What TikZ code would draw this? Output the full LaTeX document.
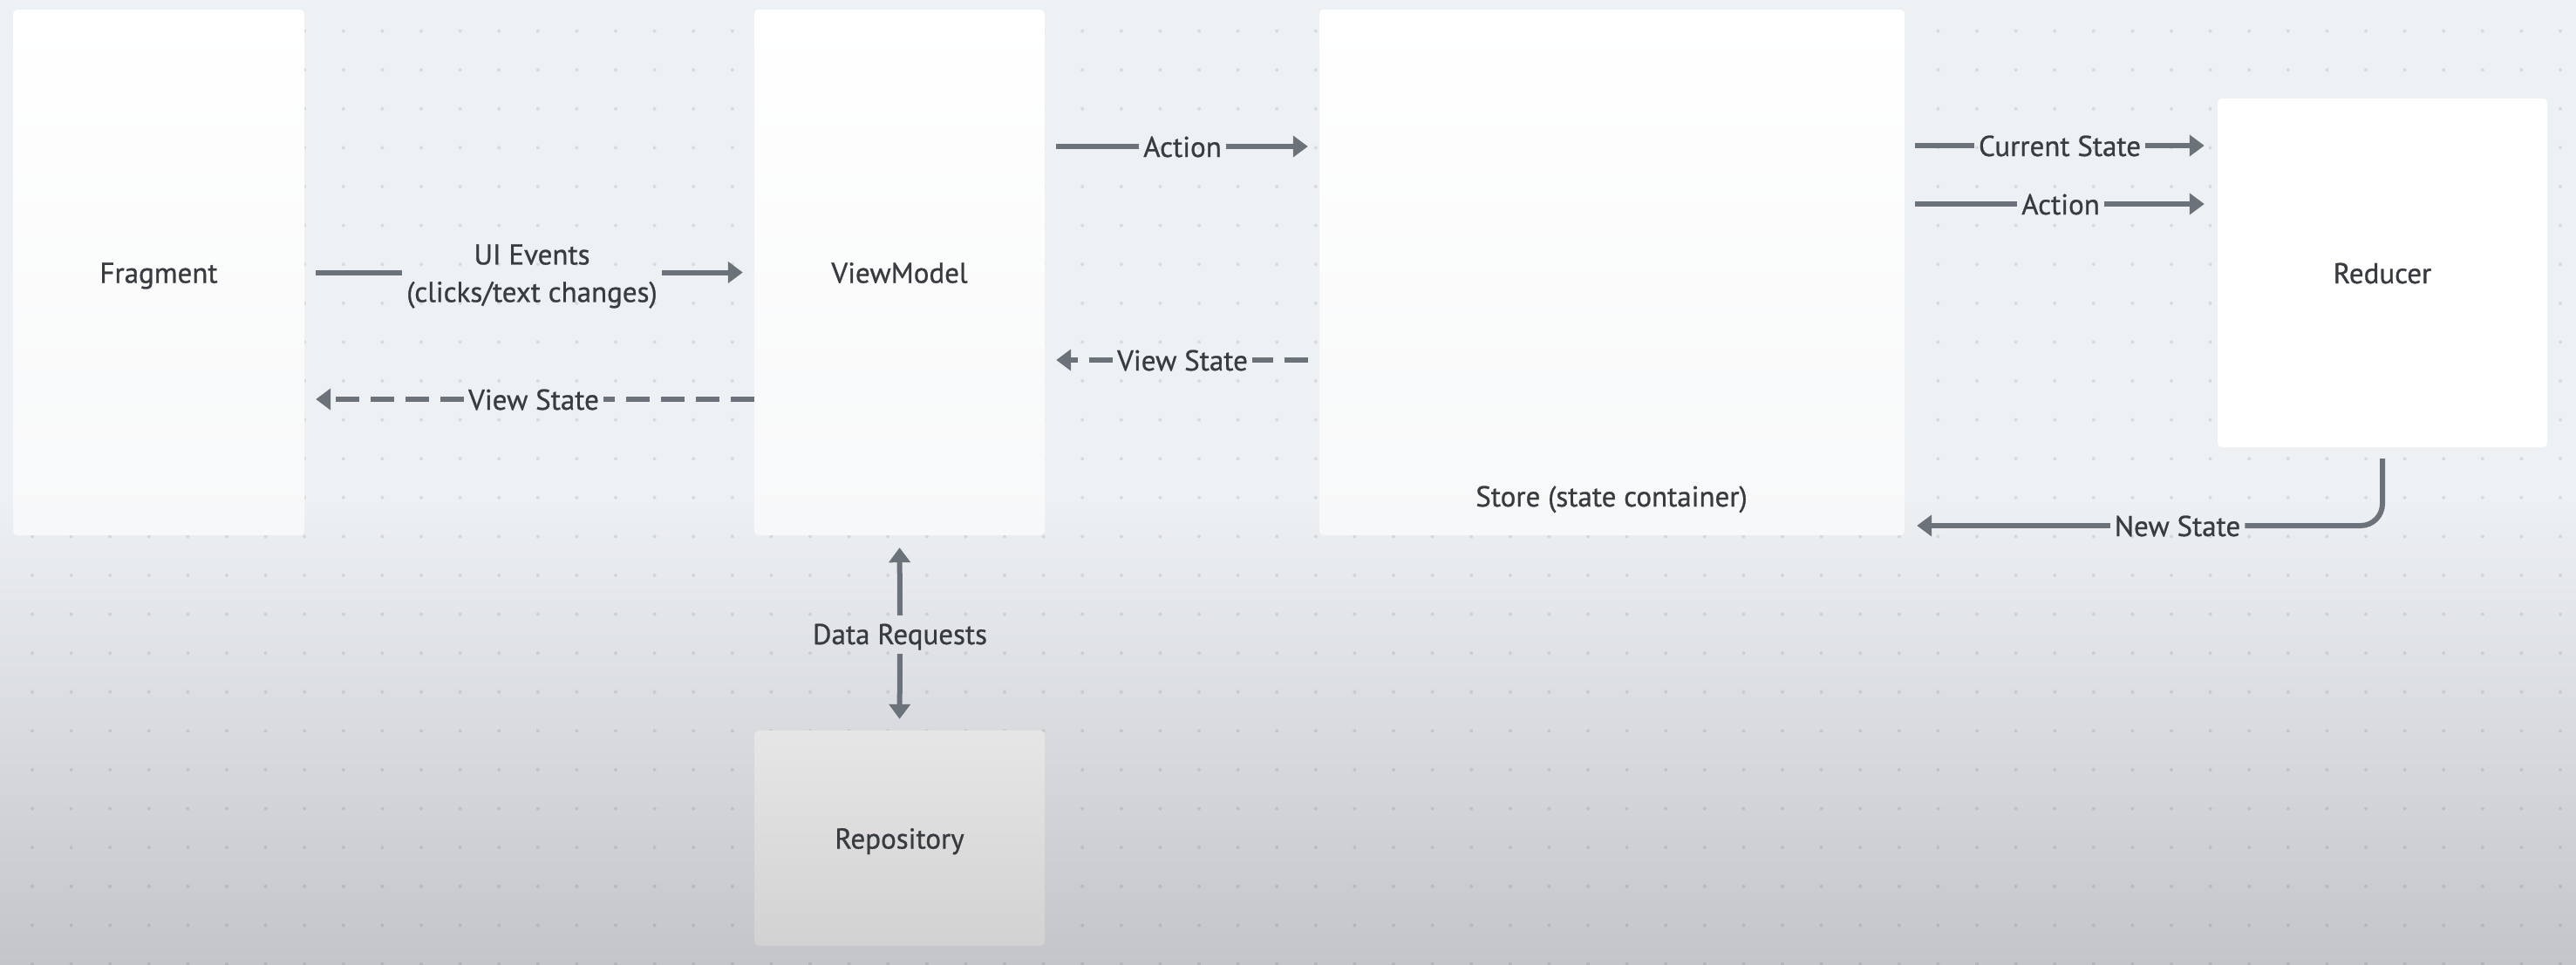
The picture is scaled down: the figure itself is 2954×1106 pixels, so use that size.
\documentclass[tikz,border=0pt]{standalone}
\usepackage{fontspec}
\setmainfont{PT Sans}[FakeBold=0.8]
\usetikzlibrary{arrows.meta,calc}
\definecolor{bgtop}{HTML}{EEF1F4}
\definecolor{bgbot}{HTML}{C3C5C9}
\definecolor{arr}{HTML}{6C727A}
\definecolor{txt}{HTML}{383B40}
\definecolor{repotop}{HTML}{E6E6E6}
\definecolor{repobot}{HTML}{D2D2D2}
\definecolor{boxbot}{HTML}{F7F8F9}
\tikzset{
  box/.style={rectangle, rounded corners=5pt, inner sep=0pt, text=txt, top color=white, bottom color=boxbot, text height=28pt, text depth=4pt},
  lbl/.style={inner sep=5pt, text=txt, align=center},
  lbl1/.style={lbl, text height=28pt, text depth=4pt},
  conn/.style={draw=arr, line width=6pt},
  dconn/.style={conn, dash pattern=on 27pt off 13pt},
}
\begin{document}
\begin{tikzpicture}[x=1pt,y=-1pt, font=\fontsize{33pt}{43pt}\selectfont,
  >={Triangle[length=17pt,width=24pt]}]
\useasboundingbox (0,0) rectangle (2954,1106);
% background
\fill[bgtop] (0,0) rectangle (2954,1106);
\shade[top color=bgtop, bottom color=bgbot] (0,570) rectangle (2954,1106);
% dot grid
\fill[black, opacity=0.09]
  \foreach \i in {0,...,65} { \foreach \j in {0,...,24} { (37+44.6*\i, 35.6+44.6*\j) circle (2) } };

% boxes
\node[box, minimum width=334pt, minimum height=603pt] (frag) at (182,312.5) {Fragment};
\node[box, minimum width=333pt, minimum height=603pt] (vm) at (1031.5,312.5) {ViewModel};
\node[box, minimum width=671pt, minimum height=603pt] (store) at (1848.5,312.5) {};
\node[lbl1] (storelbl) at (1848,569) {Store (state container)};
\node[box, minimum width=378pt, minimum height=400pt, top color=white, bottom color=white] (reducer) at (2732,313) {Reducer};
\node[box, minimum width=333pt, minimum height=247pt, top color=repotop, bottom color=repobot] (repo) at (1031.5,961.5) {Repository};

% UI events
\node[lbl] (uiev) at (610,317) {UI Events\\(clicks/text changes)};
\draw[conn, shorten <=13pt] (frag.east) -- (frag.east -| uiev.west);
\draw[conn, ->, shorten >=13pt] (uiev.east |- frag.east) -- (vm.west);

% View State (VM -> Fragment)
\node[lbl1] (vs1) at (612,458) {View State};
\draw[dconn] (vm.west |- vs1.east) -- (vs1.east);
\draw[dconn, ->, shorten >=13pt] (vs1.west) -- (frag.east |- vs1.west);

% Action (VM -> Store)
\node[lbl1] (act1) at (1356,168) {Action};
\draw[conn, shorten <=13pt] (vm.east |- act1.west) -- (act1.west);
\draw[conn, ->, shorten >=13pt] (act1.east) -- (store.west |- act1.east);

% View State (Store -> VM)
\node[lbl1] (vs2) at (1356,413) {View State};
\draw[dconn, shorten <=13pt] (store.west |- vs2.east) -- (vs2.east);
\draw[dconn, ->, shorten >=13pt] (vs2.west) -- (vm.east |- vs2.west);

% Current State, Action (Store -> Reducer)
\node[lbl1] (cs) at (2362,167) {Current State};
\draw[conn, shorten <=12pt] (store.east |- cs.west) -- (cs.west);
\draw[conn, ->, shorten >=15pt] (cs.east) -- (reducer.west |- cs.east);
\node[lbl1] (act2) at (2363,234) {Action};
\draw[conn, shorten <=12pt] (store.east |- act2.west) -- (act2.west);
\draw[conn, ->, shorten >=15pt] (act2.east) -- (reducer.west |- act2.east);

% New State (Reducer -> Store)
\node[lbl1] (ns) at (2497,603) {New State};
\draw[conn, shorten <=13pt, rounded corners=25pt] (reducer.south) |- (ns.east);
\draw[conn, ->, shorten >=14pt] (ns.west) -- (store.east |- ns.west);

% Data Requests (VM <-> Repository)
\node[lbl1] (dr) at (1032,727) {Data Requests};
\draw[conn, ->, shorten >=14pt] (dr.north) -- (vm.south);
\draw[conn, ->, shorten <=2pt, shorten >=13pt] (dr.south) -- (repo.north);
\end{tikzpicture}
\end{document}
